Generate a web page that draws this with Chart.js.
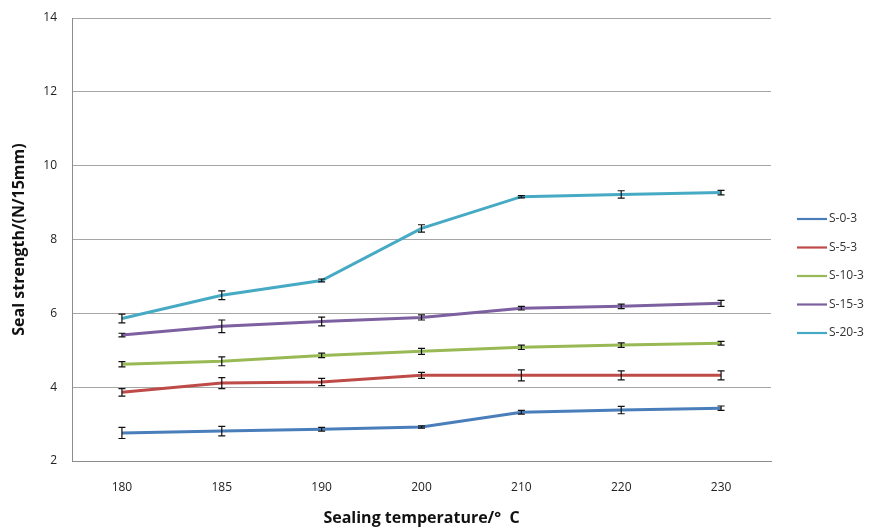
<!DOCTYPE html>
<html>
<head>
<meta charset="utf-8">
<script src="https://cdn.jsdelivr.net/npm/chart.js@4"></script>
<style>
  html, body { margin: 0; padding: 0; background: #fff; }
  #wrap { width: 871px; height: 528px; }
</style>
</head>
<body>
<div id="wrap"><canvas id="chart"></canvas></div>
<script>
const temperatures = ["180", "185", "190", "200", "210", "220", "230"];
const seriesNames = ["S-0-3", "S-5-3", "S-10-3", "S-15-3", "S-20-3"];

// mean seal strength
const s0 = [2.76, 2.81, 2.86, 2.92, 3.32, 3.38, 3.43];
const s5 = [3.86, 4.11, 4.14, 4.32, 4.32, 4.32, 4.32];
const s10 = [4.62, 4.70, 4.86, 4.97, 5.08, 5.14, 5.19];
const s15 = [5.41, 5.65, 5.78, 5.89, 6.14, 6.19, 6.27];
const s20 = [5.86, 6.49, 6.89, 8.30, 9.16, 9.22, 9.27];

// error (+/-)
const e0 = [0.15, 0.13, 0.05, 0.03, 0.05, 0.10, 0.06];
const e5 = [0.10, 0.15, 0.10, 0.08, 0.15, 0.12, 0.12];
const e10 = [0.07, 0.12, 0.06, 0.08, 0.06, 0.06, 0.05];
const e15 = [0.05, 0.17, 0.12, 0.07, 0.05, 0.06, 0.08];
const e20 = [0.12, 0.12, 0.04, 0.10, 0.03, 0.10, 0.06];

const yTicks = [2, 4, 6, 8, 10, 12, 14];

const colors = ["#4A7EBB", "#BE4B48", "#98B954", "#7D60A0", "#46AAC5"];
const values = [s0, s5, s10, s15, s20];
const errors = [e0, e5, e10, e15, e20];

const FONT = "'Open Sans', 'DejaVu Sans', sans-serif";

// error bars drawn from the y scale
const errorBars = {
  id: "errorBars",
  afterDatasetsDraw(chart) {
    const ctx = chart.ctx;
    const y = chart.scales.y;
    ctx.save();
    ctx.strokeStyle = "#111";
    ctx.lineWidth = 1.2;
    chart.data.datasets.forEach((ds, i) => {
      const meta = chart.getDatasetMeta(i);
      meta.data.forEach((pt, j) => {
        const v = ds.data[j], e = ds.errors[j];
        const top = y.getPixelForValue(v + e);
        const bot = y.getPixelForValue(v - e);
        ctx.beginPath();
        ctx.moveTo(pt.x, top); ctx.lineTo(pt.x, bot);
        ctx.moveTo(pt.x - 3.5, top); ctx.lineTo(pt.x + 3.5, top);
        ctx.moveTo(pt.x - 3.5, bot); ctx.lineTo(pt.x + 3.5, bot);
        ctx.stroke();
      });
    });
    ctx.restore();
  }
};

// legend on the right, Excel style
const sideLegend = {
  id: "sideLegend",
  afterDraw(chart) {
    const ctx = chart.ctx;
    ctx.save();
    ctx.font = "12px " + FONT;
    ctx.textBaseline = "middle";
    ctx.fillStyle = "#333";
    chart.data.datasets.forEach((ds, i) => {
      const yy = 219 + i * 28.5;
      ctx.strokeStyle = ds.borderColor;
      ctx.lineWidth = 2.2;
      ctx.beginPath();
      ctx.moveTo(797, yy); ctx.lineTo(827, yy);
      ctx.stroke();
      ctx.fillText(ds.label, 829, yy);
    });
    ctx.restore();
  }
};

new Chart(document.getElementById("chart"), {
  type: "line",
  data: {
    labels: temperatures,
    datasets: seriesNames.map((name, i) => ({
      label: name,
      data: values[i],
      errors: errors[i],
      borderColor: colors[i],
      backgroundColor: colors[i],
      borderWidth: 3,
      pointRadius: 0,
      pointHoverRadius: 0,
      tension: 0
    }))
  },
  options: {
    responsive: true,
    maintainAspectRatio: false,
    animation: false,
    layout: { padding: { left: 0, top: 18, right: 100, bottom: 0 } },
    plugins: {
      legend: { display: false },
      tooltip: { enabled: false }
    },
    scales: {
      x: {
        offset: true,
        grid: { display: false },
        border: { display: true, color: "#8c8c8c", width: 1 },
        ticks: { color: "#222", font: { family: FONT, size: 12 }, padding: 11, maxRotation: 0 },
        title: {
          display: true,
          text: "Sealing temperature/°  C",
          color: "#111",
          font: { family: FONT, size: 16, weight: "bold" },
          padding: { top: 0, bottom: 0 }
        },
        afterFit(scale) { scale.height = 67; }
      },
      y: {
        min: 2,
        max: 14,
        afterBuildTicks(scale) { scale.ticks = yTicks.map(v => ({ value: v })); },
        grid: { color: "#a6a6a6", lineWidth: 1, drawTicks: false },
        border: { display: true, color: "#8c8c8c", width: 1 },
        ticks: { color: "#222", font: { family: FONT, size: 12 }, padding: 15 },
        title: {
          display: true,
          text: "Seal strength/(N/15mm)",
          color: "#111",
          font: { family: FONT, size: 16, weight: "bold" },
          padding: { top: 10, bottom: 0 }
        },
        afterFit(scale) {
          scale.width = 72;
          scale.paddingTop = 0;
          scale.paddingBottom = 0;
        }
      }
    }
  },
  plugins: [errorBars, sideLegend]
});
</script>
</body>
</html>
